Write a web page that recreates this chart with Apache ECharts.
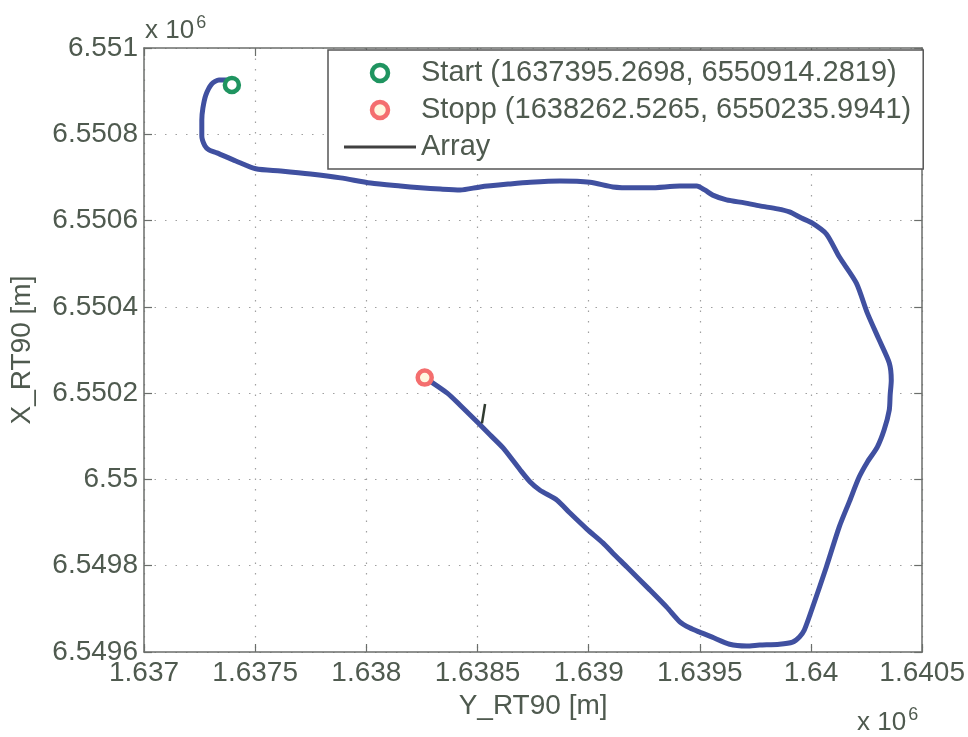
<!DOCTYPE html>
<html><head><meta charset="utf-8">
<script src="https://cdn.jsdelivr.net/npm/echarts@6/dist/echarts.min.js"></script>
<style>html,body{margin:0;padding:0;background:#fff}#c{width:968px;height:737px}</style>
</head><body><div id="c"></div><script>
// Axis ranges and tick labels (values shown x 10^6)
const xMin = 1637000, xMax = 1640500, xStep = 500;
const yMin = 6549600, yMax = 6551000, yStep = 200;
const xTickLabels = ['1.637','1.6375','1.638','1.6385','1.639','1.6395','1.64','1.6405'];
const yTickLabels = ['6.5496','6.5498','6.55','6.5502','6.5504','6.5506','6.5508','6.551'];

// Start / stop points
const startPoint = [1637395.2698, 6550914.2819];
const stopPoint  = [1638262.5265, 6550235.9941];
const startLabel = 'Start (1637395.2698, 6550914.2819)';
const stopLabel  = 'Stopp (1638262.5265, 6550235.9941)';

// Track: Y_RT90 (east) and X_RT90 (north)
const trackY = [1637395,1637372,1637337,1637305,1637278,1637265,1637260,1637260,1637274,1637292,
  1637328,1637413,1637503,1637615,1637749,1637884,1638019,1638153,1638243,1638333,
  1638422,1638512,1638647,1638737,1638871,1639006,1639109,1639208,1639275,1639410,
  1639486,1639522,1639558,1639620,1639701,1639769,1639849,1639903,1639957,1640006,
  1640069,1640127,1640204,1640253,1640307,1640352,1640361,1640356,1640352,1640329,
  1640298,1640253,1640217,1640172,1640127,1640069,1640006,1639970,1639948,1639917,
  1639858,1639769,1639710,1639634,1639553,1639499,1639454,1639410,1639351,1639275,
  1639172,1639109,1639064,1638992,1638916,1638858,1638781,1638737,1638692,1638615,
  1638557,1638499,1638422,1638364,1638262.5];
const trackX = [6550914,6550926,6550926,6550917,6550891,6550861,6550833,6550796,6550773,6550764,
  6550757,6550738,6550720,6550715,6550708,6550699,6550687,6550680,6550676,6550673,
  6550671,6550678,6550685,6550689,6550692,6550689,6550678,6550676,6550676,6550680,
  6550680,6550671,6550659,6550648,6550641,6550634,6550627,6550620,6550606,6550594,
  6550569,6550516,6550455,6550386,6550323,6550270,6550230,6550196,6550161,6550115,
  6550075,6550040,6550006,6549948,6549890,6549797,6549702,6549651,6549635,6549623,
  6549618,6549616,6549614,6549618,6549635,6549646,6549656,6549670,6549704,6549744,
  6549797,6549829,6549853,6549885,6549922,6549952,6549975,6549994,6550022,6550073,
  6550103,6550133,6550172,6550200,6550236];

// "Array" short segment
const arrayY = [1638534, 1638520];
const arrayX = [6550175, 6550130];

const txt = '#4f5a4f', axisCol = '#6b6e6b', gridCol = '#a0a0a0';
const fontFam = '"Liberation Sans", Arial, Helvetica, sans-serif';
const green = '#1f9460', pink = '#f46e6e', blue = '#4050a0';

const chart = echarts.init(document.getElementById('c'), null, {renderer: 'canvas'});

const baseX = {type: 'value', min: xMin, max: xMax, interval: xStep};
const baseY = {type: 'value', min: yMin, max: yMax, interval: yStep};

chart.setOption({
  animation: false,
  backgroundColor: '#fff',
  textStyle: {fontFamily: fontFam},
  grid: {left: 143, top: 48, right: 45, bottom: 85, containLabel: false},
  xAxis: [
    Object.assign({}, baseX, {
      position: 'bottom',
      name: 'Y_RT90 [m]', nameLocation: 'middle', nameGap: 40,
      nameTextStyle: {color: txt, fontSize: 28, fontFamily: fontFam},
      axisLine: {show: true, lineStyle: {color: axisCol, width: 1.5}},
      axisTick: {show: true, inside: true, length: 8, lineStyle: {color: axisCol, width: 1.2}},
      axisLabel: {color: txt, fontSize: 28, fontFamily: fontFam, margin: 7,
        formatter: v => xTickLabels[Math.round((v - xMin) / xStep)]},
      splitLine: {show: true, lineStyle: {color: gridCol, type: [1.5, 9], width: 1.2}}
    }),
    Object.assign({}, baseX, {
      position: 'top',
      axisLine: {show: true, lineStyle: {color: axisCol, width: 1.5}},
      axisTick: {show: true, inside: true, length: 8, lineStyle: {color: axisCol, width: 1.2}},
      axisLabel: {show: false}, splitLine: {show: false}
    })
  ],
  yAxis: [
    Object.assign({}, baseY, {
      position: 'left',
      name: 'X_RT90 [m]', nameLocation: 'middle', nameGap: 108, nameRotate: 90,
      nameTextStyle: {color: txt, fontSize: 28, fontFamily: fontFam},
      axisLine: {show: true, lineStyle: {color: axisCol, width: 1.5}},
      axisTick: {show: true, inside: true, length: 8, lineStyle: {color: axisCol, width: 1.2}},
      axisLabel: {color: txt, fontSize: 28, fontFamily: fontFam, margin: 6,
        formatter: v => yTickLabels[Math.round((v - yMin) / yStep)]},
      splitLine: {show: true, lineStyle: {color: gridCol, type: [1.5, 9], width: 1.2}}
    }),
    Object.assign({}, baseY, {
      position: 'right',
      axisLine: {show: true, lineStyle: {color: axisCol, width: 1.5}},
      axisTick: {show: true, inside: true, length: 8, lineStyle: {color: axisCol, width: 1.2}},
      axisLabel: {show: false}, splitLine: {show: false}
    })
  ],
  legend: {
    orient: 'vertical', left: 328, top: 50,
    padding: [8, 12, 7, 16],
    backgroundColor: '#fff', borderColor: '#555', borderWidth: 1.5,
    itemWidth: 72, itemHeight: 16, itemGap: 7, itemTextGap: 13,
    textStyle: {color: txt, fontSize: 29, lineHeight: 30, fontFamily: fontFam},
    data: [
      {name: startLabel, icon: 'circle', itemStyle: {color: '#fff', borderColor: green, borderWidth: 4.5}},
      {name: stopLabel, icon: 'circle', itemStyle: {color: '#fff6e0', borderColor: pink, borderWidth: 4.5}},
      {name: 'Array', icon: 'path://M0 0H72V3H0Z', itemStyle: {color: '#404040', borderWidth: 0}}
    ]
  },
  graphic: [
    {type: 'text', left: 145, top: 14, style: {
      text: 'x 10{s|6}', fill: txt, font: '26px ' + fontFam,
      rich: {s: {fontSize: 18, verticalAlign: 'top', padding: [0, 0, 16, 2], fill: txt, fontFamily: fontFam}}}},
    {type: 'text', left: 857, top: 706, style: {
      text: 'x 10{s|6}', fill: txt, font: '26px ' + fontFam,
      rich: {s: {fontSize: 18, verticalAlign: 'top', padding: [0, 0, 16, 2], fill: txt, fontFamily: fontFam}}}}
  ],
  series: [
    {
      name: 'Track', type: 'line', xAxisIndex: 0, yAxisIndex: 0,
      data: trackY.map((v, i) => [v, trackX[i]]),
      showSymbol: false, smooth: 0.25,
      lineStyle: {color: blue, width: 5, cap: 'round', join: 'round'},
      z: 2
    },
    {
      name: 'Array', type: 'line', xAxisIndex: 0, yAxisIndex: 0,
      data: arrayY.map((v, i) => [v, arrayX[i]]),
      showSymbol: false, symbol: 'none',
      lineStyle: {color: '#303a30', width: 2.5},
      itemStyle: {color: '#404040'},
      z: 3
    },
    {
      name: startLabel, type: 'scatter', xAxisIndex: 0, yAxisIndex: 0,
      data: [startPoint], symbol: 'circle', symbolSize: 14,
      itemStyle: {color: '#fff', borderColor: green, borderWidth: 4.5, opacity: 1},
      z: 4
    },
    {
      name: stopLabel, type: 'scatter', xAxisIndex: 0, yAxisIndex: 0,
      data: [stopPoint], symbol: 'circle', symbolSize: 14,
      itemStyle: {color: '#fff6e0', borderColor: pink, borderWidth: 4.5, opacity: 1},
      z: 4
    }
  ]
});
</script></body></html>
